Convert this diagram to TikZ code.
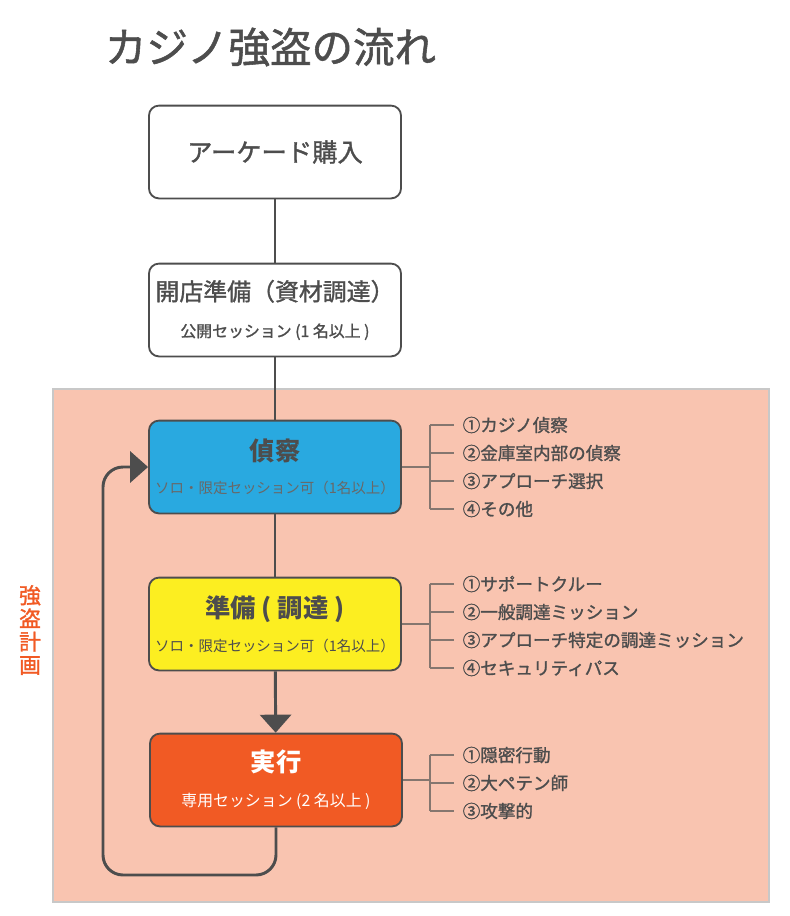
\documentclass[tikz,border=0pt]{standalone}
\usepackage{fontspec}
\setmainfont{Noto Sans CJK JP}
\newfontfamily\jpmed[FakeBold=1.3]{Noto Sans CJK JP}
\usepackage{xcolor}
\usepackage{tikz}
\usetikzlibrary{positioning,calc,arrows.meta}
\definecolor{InkGray}{HTML}{4D4D4D}
\definecolor{PlanPink}{HTML}{F9C4B0}
\definecolor{PlanEdge}{HTML}{C8C8C8}
\definecolor{ScoutBlue}{HTML}{29A9E0}
\definecolor{PrepYellow}{HTML}{FCEE21}
\definecolor{HeistOrange}{HTML}{F15A24}
\definecolor{TickGray}{HTML}{85766F}
\tikzset{
    flowbox/.style={rectangle, rounded corners=0.25cm, draw=InkGray, line width=1.3pt, minimum width=6.3cm, minimum height=2.32cm, inner sep=0pt, align=center, text=InkGray},
    flowline/.style={draw=InkGray, line width=2.1pt},
    tickline/.style={draw=TickGray, line width=1pt},
    itemtext/.style={anchor=west, inner xsep=6pt, inner ysep=0pt, text=InkGray, font=\jpmed\fontsize{12.5}{14}\selectfont}
}

\begin{document}
\begin{tikzpicture}[
        x=0.025cm, y=-0.025cm,
        % 箱の中の小さい文字
        boxsub/.style={font=\fontsize{11.3}{13}\selectfont},
        % 矢じり
        bigtip/.style={-{Triangle[width=0.78cm, length=0.45cm]}}
    ]
        \useasboundingbox (0,0) rectangle (790,916);

        % --- タイトル ---
        \node[anchor=west, text=InkGray, font=\jpmed\fontsize{29.5}{34}\selectfont] (title) at (100,47) {カジノ強盗の流れ};

        % --- 強盗計画の領域 ---
        \node[rectangle, draw=PlanEdge, fill=PlanPink, line width=1.2pt, anchor=north west,
              minimum width=17.9cm, minimum height=12.82cm] (plan) at (52,388) {};
        \node[text=HeistOrange, align=center, font=\jpmed\fontsize{15.5}{16.5}\selectfont] (planlabel) at (30,630) {強\\盗\\計\\画};

        % --- 流れの箱 ---
        \node[flowbox, fill=white, font=\jpmed\fontsize{18}{22}\selectfont] (arcade) at (275,152) {アーケード購入};
        \node[flowbox, fill=white, font=\jpmed\fontsize{17}{22}\selectfont] (setup) at (275,310)
            {開店準備（資材調達）\\[4pt]{\fontsize{11.3}{13}\selectfont 公開セッション (1 名以上 )}};
        \node[flowbox, fill=ScoutBlue, font=\fontsize{18}{22}\bfseries] (scout) at (275,467)
            {偵察\\[1pt]{\mdseries\fontsize{10.3}{13}\selectfont\color{InkGray!85} ソロ・限定セッション可（1名以上）}};
        \node[flowbox, fill=PrepYellow, font=\fontsize{18}{22}\bfseries] (prep) at (275,624)
            {準備 ( 調達 )\\[2pt]{\mdseries\fontsize{10.3}{13}\selectfont ソロ・限定セッション可（1名以上）}};
        \node[flowbox, fill=HeistOrange, text=white, font=\fontsize{18}{22}\bfseries] (exec) at (276,780)
            {実行\\[3pt]{\mdseries\fontsize{11.3}{13}\selectfont 専用セッション (2 名以上 )}};

        % --- つなぐ線 ---
        \draw[flowline] (arcade) -- (setup);
        \draw[flowline] (setup) -- (scout);
        \draw[flowline] (scout) -- (prep);
        \draw[flowline, bigtip] (prep) -- (exec);

        % 戻りのループ
        \coordinate (loopcorner) at (103,875);
        \draw[flowline, rounded corners=0.5cm, bigtip] (exec.south) |- (loopcorner) |- (scout.west);

        % --- 各段階の内訳 ---
        \coordinate (bx) at (430,0);
        \foreach \txt [count=\i] in {①カジノ偵察, ②金庫室内部の偵察, ③アプローチ選択, ④その他} {
            \node[itemtext] (s\i) at (454, {425+28*(\i-1)}) {\txt};
            \draw[tickline] (s\i.west -| bx) -- (s\i.west);
        }
        \draw[tickline] (scout.east) -- (scout.east -| bx);
        \draw[tickline] (s1.west -| bx) -- (s4.west -| bx);

        \foreach \txt [count=\i] in {①サポートクルー, ②一般調達ミッション, ③アプローチ特定の調達ミッション, ④セキュリティパス} {
            \node[itemtext] (p\i) at (454, {584+28*(\i-1)}) {\txt};
            \draw[tickline] (p\i.west -| bx) -- (p\i.west);
        }
        \draw[tickline] (prep.east) -- (prep.east -| bx);
        \draw[tickline] (p1.west -| bx) -- (p4.west -| bx);

        \foreach \txt [count=\i] in {①隠密行動, ②大ペテン師, ③攻撃的} {
            \node[itemtext] (e\i) at (454, {755+28*(\i-1)}) {\txt};
            \draw[tickline] (e\i.west -| bx) -- (e\i.west);
        }
        \draw[tickline] (exec.east) -- (exec.east -| bx);
        \draw[tickline] (e1.west -| bx) -- (e3.west -| bx);

    \end{tikzpicture}
\end{document}
